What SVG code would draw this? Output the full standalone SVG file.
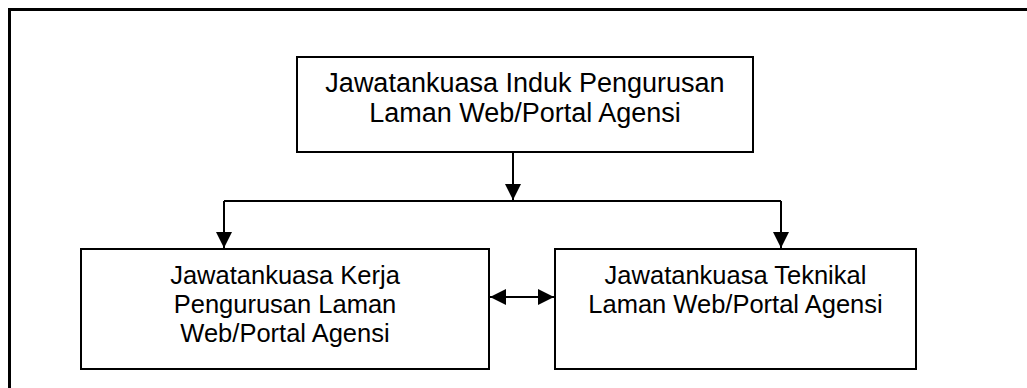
<svg xmlns="http://www.w3.org/2000/svg" width="1027" height="388" viewBox="0 0 1027 388">
<style>
.box{fill:#fff;stroke:#000;stroke-width:2}
.frame{fill:none;stroke:#000;stroke-width:3}
.ln{fill:none;stroke:#000;stroke-width:2}
.t{font-family:"Liberation Sans",Arial,sans-serif;font-size:25.5px;fill:#000;text-anchor:middle}
.tl{font-size:27px}
</style>
<defs>
<marker id="ah" viewBox="0 0 16 16" refX="16" refY="8" markerWidth="16" markerHeight="16" markerUnits="userSpaceOnUse" orient="auto-start-reverse">
<path d="M0,0 L16,8 L0,16 Z" fill="#000"/>
</marker>
</defs>
<rect width="1027" height="388" fill="#fff"/>
<path class="frame" d="M9.5,400 V9.5 H1040"/>
<g id="connectors">
<path class="ln" d="M513,152 V200" marker-end="url(#ah)"/>
<path class="ln" d="M224,201 H781"/>
<path class="ln" d="M224,201 V248" marker-end="url(#ah)"/>
<path class="ln" d="M781,201 V248" marker-end="url(#ah)"/>
<path class="ln" d="M490,297 H554" marker-start="url(#ah)" marker-end="url(#ah)"/>
</g>
<g id="induk">
<rect class="box" x="297" y="57" width="456" height="95"/>
<text class="t tl" x="525" y="92">Jawatankuasa Induk Pengurusan</text>
<text class="t tl" x="525" y="122">Laman Web/Portal Agensi</text>
</g>
<g id="kerja">
<rect class="box" x="81" y="249" width="408" height="120"/>
<text class="t" x="285" y="284">Jawatankuasa Kerja</text>
<text class="t" x="285" y="313">Pengurusan Laman</text>
<text class="t" x="285" y="342">Web/Portal Agensi</text>
</g>
<g id="teknikal">
<rect class="box" x="555" y="249" width="361" height="120"/>
<text class="t" x="735.5" y="284">Jawatankuasa Teknikal</text>
<text class="t" x="735.5" y="313">Laman Web/Portal Agensi</text>
</g>
</svg>
